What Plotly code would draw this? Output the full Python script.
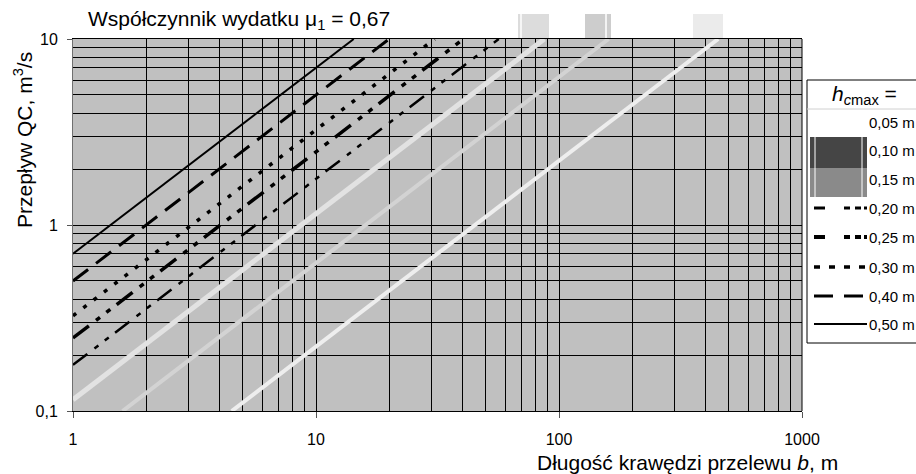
import plotly.graph_objects as go

# Weir discharge Q versus crest length b for several maximum heads h_cmax
# (discharge coefficient mu1 = 0.67). Each curve is a straight line on log-log axes,
# given by its first and last point.
head_labels = ["0,05 m", "0,10 m", "0,15 m", "0,20 m", "0,25 m", "0,30 m", "0,40 m", "0,50 m"]
b_start = [4.5, 1.6, 1.0, 1.0, 1.0, 1.0, 1.0, 1.0]
q_start = [0.1, 0.1, 0.115, 0.177, 0.247, 0.325, 0.50, 0.70]
b_end = [452, 160, 87, 56.5, 40.4, 30.8, 20.0, 14.3]
q_end = [10, 10, 10, 10, 10, 10, 10, 10]

x_tick_vals = [1, 10, 100, 1000]
x_tick_text = ["1", "10", "100", "1000"]
y_tick_vals = [0.1, 1, 10]
y_tick_text = ["0,1", "1", "10"]

# Styles per curve
line_colors = ["#eeeeee", "#d3d3d3", "#e2e2e2", "#000000", "#000000", "#000000", "#000000", "#000000"]
line_widths = [4, 4, 5, 2.5, 3.5, 3.5, 3, 2]
line_dashes = [
    "solid", "solid", "solid",
    "18px,9px,5px,8px,5px,8px",
    "20px,9px,5px,8px,5px,8px",
    "4px,9px",
    "19px,10px",
    "solid",
]

FONT = "Liberation Sans, Arial, sans-serif"

W, H = 916, 474
L, R, T, B = 73, 802, 39, 411  # plot area in pixels


def px(x):
    return (x - L) / (R - L)


def py(y):
    return (B - y) / (B - T)


fig = go.Figure()
for i, lab in enumerate(head_labels):
    fig.add_trace(go.Scatter(
        x=[b_start[i], b_end[i]],
        y=[q_start[i], q_end[i]],
        mode="lines",
        name=lab,
        line=dict(color=line_colors[i], width=line_widths[i], dash=line_dashes[i]),
        showlegend=False,
        hoverinfo="skip",
    ))

minor_x = [m * 10 ** k for k in range(3) for m in range(2, 10)]
minor_y = [m * 10 ** k for k in (-1, 0) for m in range(2, 10)]

fig.update_layout(
    width=W, height=H, autosize=False,
    margin=dict(l=L, r=W - R, t=T, b=H - B, pad=0),
    paper_bgcolor="white",
    plot_bgcolor="#c0c0c0",
    font=dict(family=FONT, color="black"),
    xaxis=dict(
        type="log", range=[0, 3],
        tickvals=x_tick_vals, ticktext=x_tick_text,
        ticks="outside", ticklen=6, tickcolor="#555555", tickwidth=1,
        ticklabelstandoff=8,
        tickfont=dict(size=16, family=FONT),
        showgrid=True, gridcolor="black", gridwidth=1,
        minor=dict(tickvals=minor_x, showgrid=True, gridcolor="black", gridwidth=1, ticks=""),
        showline=True, linecolor="black", linewidth=1, mirror=True,
        zeroline=False,
    ),
    yaxis=dict(
        type="log", range=[-1, 1],
        tickvals=y_tick_vals, ticktext=y_tick_text,
        ticks="outside", ticklen=5, tickcolor="#555555", tickwidth=1,
        ticklabelstandoff=6,
        tickfont=dict(size=16, family=FONT),
        showgrid=True, gridcolor="black", gridwidth=1,
        minor=dict(tickvals=minor_y, showgrid=True, gridcolor="black", gridwidth=1, ticks=""),
        showline=True, linecolor="#707070", linewidth=1, mirror=False,
        zeroline=False,
    ),
)

shapes = []
annotations = []

# right border of the plot area
shapes.append(dict(type="line", xref="paper", yref="paper", x0=1, x1=1, y0=0, y1=1,
                   line=dict(color="black", width=1)))

# small shaded tabs above the plot
for (x0, x1, col, wl) in [(518, 549, "#dcdcdc", 521), (585, 611, "#cdcdcd", 606), (693, 723, "#ebebeb", None)]:
    shapes.append(dict(type="rect", xref="paper", yref="paper",
                       x0=px(x0), x1=px(x1), y0=py(38), y1=py(14),
                       fillcolor=col, line=dict(width=0), layer="above"))
    if wl is not None:
        shapes.append(dict(type="line", xref="paper", yref="paper",
                           x0=px(wl), x1=px(wl), y0=py(38), y1=py(14),
                           line=dict(color="white", width=1.5), layer="above"))

# legend box
shapes.append(dict(type="rect", xref="paper", yref="paper",
                   x0=px(807), x1=px(940), y0=py(343), y1=py(80),
                   fillcolor="white", line=dict(color="black", width=1), layer="above"))
shapes.append(dict(type="line", xref="paper", yref="paper",
                   x0=px(807), x1=px(916), y0=py(109), y1=py(109),
                   line=dict(color="#d0d0d0", width=1), layer="above"))
annotations.append(dict(xref="paper", yref="paper", x=px(864), y=py(95),
                        xanchor="center", yanchor="middle", showarrow=False,
                        text="<i>h</i><sub><i>c</i>max</sub> =",
                        font=dict(size=21, family=FONT)))

entry_y = [122, 150, 179, 208, 237, 267, 296, 324]
for i, lab in enumerate(head_labels):
    annotations.append(dict(xref="paper", yref="paper", x=px(867), y=py(entry_y[i]),
                            xanchor="left", yanchor="middle", showarrow=False,
                            text=lab, font=dict(size=15, family=FONT)))

# legend keys
shapes.append(dict(type="rect", xref="paper", yref="paper", x0=px(810), x1=px(867),
                   y0=py(168), y1=py(137), fillcolor="#454545", line=dict(width=0), layer="above"))
shapes.append(dict(type="rect", xref="paper", yref="paper", x0=px(810), x1=px(867),
                   y0=py(197), y1=py(168), fillcolor="#8a8a8a", line=dict(width=0), layer="above"))
for wx in (815, 862):
    shapes.append(dict(type="line", xref="paper", yref="paper", x0=px(wx), x1=px(wx),
                       y0=py(197), y1=py(137), line=dict(color="white", width=1), layer="above"))

key_styles = [
    (3, "11px,19px,6px,5px,6px,3px"),
    (4, "11px,19px,6px,5px,6px,3px"),
    (3.5, "6px,9px"),
    (3, "19px,11px"),
    (2, "solid"),
]
for j, (wd, ds) in enumerate(key_styles):
    yy = entry_y[3 + j]
    shapes.append(dict(type="line", xref="paper", yref="paper", x0=px(814), x1=px(867),
                       y0=py(yy), y1=py(yy), line=dict(color="black", width=wd, dash=ds),
                       layer="above"))

# titles
annotations.append(dict(xref="paper", yref="paper", x=px(86), y=py(20),
                        xanchor="left", yanchor="middle", showarrow=False,
                        text="Współczynnik wydatku μ<sub>1</sub> = 0,67",
                        font=dict(size=21, family=FONT)))
annotations.append(dict(xref="paper", yref="paper", x=px(23), y=py(140),
                        xanchor="center", yanchor="middle", showarrow=False, textangle=-90,
                        text="Przepływ QC, m<sup>3</sup>/s",
                        font=dict(size=21, family=FONT)))
annotations.append(dict(xref="paper", yref="paper", x=px(840), y=py(462),
                        xanchor="right", yanchor="middle", showarrow=False,
                        text="Długość krawędzi przelewu <i>b</i>, m",
                        font=dict(size=21, family=FONT)))

fig.update_layout(shapes=shapes, annotations=annotations)
fig.write_html("out.html")
